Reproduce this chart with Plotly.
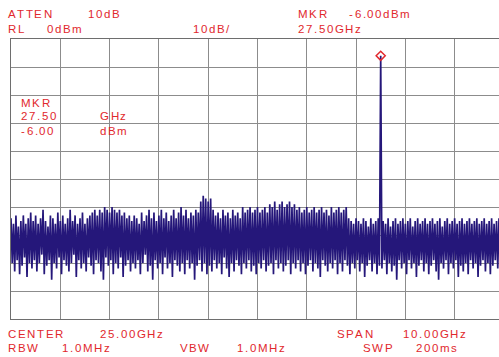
import plotly.graph_objects as go

# ---- instrument settings ----
start_ghz = 20.0
stop_ghz = 30.0
n_points = 401
ref_level = 0.0
db_per_div = 10

marker_ghz = 27.50
marker_dbm = -6.00

# ---- trace values (dBm) ----
trace_dbm = [
    -64, -80, -66, -83, -63, -79, -67, -84, -65, -81, -63, -78, -66, -85, -64, -80, -62, -82, -65, -79,
    -63, -83, -66, -80, -64, -77, -61, -84, -65, -81, -67, -79, -63, -86, -64, -80, -66, -82, -62, -78,
    -65, -84, -63, -79, -66, -81, -64, -83, -61, -80, -65, -77, -63, -85, -66, -79, -64, -82, -62, -80,
    -66, -83, -64, -78, -63, -81, -62, -84, -61, -79, -63, -80, -61, -83, -62, -86, -60, -78, -61, -81,
    -62, -79, -60, -84, -61, -80, -62, -82, -61, -78, -63, -85, -62, -81, -64, -79, -63, -83, -65, -80,
    -63, -82, -64, -79, -66, -84, -62, -80, -65, -77, -63, -83, -61, -81, -64, -86, -62, -79, -65, -82,
    -63, -80, -61, -84, -64, -78, -62, -82, -65, -80, -63, -85, -61, -79, -64, -81, -62, -83, -60, -80,
    -63, -84, -61, -79, -64, -82, -62, -80, -63, -86, -61, -81, -62, -79, -58, -83, -56, -80, -57, -84,
    -58, -81, -57, -83, -61, -79, -63, -82, -62, -80, -64, -84, -61, -78, -63, -82, -62, -85, -64, -80,
    -61, -83, -63, -79, -62, -81, -64, -84, -60, -80, -62, -82, -61, -79, -60, -83, -62, -81, -61, -84,
    -60, -80, -62, -82, -61, -79, -60, -83, -62, -81, -59, -80, -60, -84, -58, -79, -61, -82, -59, -80,
    -58, -83, -60, -81, -59, -79, -58, -84, -60, -80, -59, -82, -61, -79, -60, -83, -62, -80, -61, -84,
    -60, -81, -62, -79, -61, -83, -60, -80, -62, -82, -61, -85, -60, -79, -62, -81, -61, -83, -63, -80,
    -60, -82, -62, -79, -61, -84, -60, -80, -62, -83, -61, -79, -60, -81, -64, -84, -65, -80, -66, -82,
    -64, -79, -65, -83, -66, -80, -64, -85, -65, -81, -67, -79, -64, -83, -66, -80, -65, -84, -64, -81,
    -6, -82, -65, -79, -66, -84, -64, -80, -67, -83, -65, -81, -64, -86, -66, -79, -65, -82, -64, -80,
    -66, -84, -65, -79, -64, -82, -67, -80, -65, -85, -64, -81, -66, -79, -65, -83, -64, -80, -66, -84,
    -65, -81, -64, -79, -66, -83, -65, -86, -64, -80, -67, -82, -65, -79, -64, -84, -66, -80, -65, -82,
    -64, -79, -66, -85, -65, -81, -64, -83, -66, -80, -65, -84, -64, -79, -66, -82, -65, -80, -64, -85,
    -66, -81, -65, -79, -64, -83, -66, -80, -65, -84, -64, -81, -66, -79, -65, -82, -64, -80, -66, -83,
    -65,
]

step = (stop_ghz - start_ghz) / (n_points - 1)
freq_ghz = [start_ghz + i * step for i in range(n_points)]

# ---- screen annotation texts: (text, left px, center-line px) ----
header_texts = [
    ("ATTEN", 8, 14), ("10dB", 88, 14),
    ("RL", 8, 29), ("0dBm", 47, 29), ("10dB/", 193, 29),
    ("MKR", 298, 14), ("-6.00dBm", 349, 14), ("27.50GHz", 298, 29),
]
inner_texts = [
    ("MKR", 21, 103), ("27.50", 21, 116), ("GHz", 100, 116),
    ("-6.00", 21, 131), ("dBm", 100, 131),
]
footer_texts = [
    ("CENTER", 8, 334), ("25.00GHz", 100, 334),
    ("SPAN", 337, 334), ("10.00GHz", 403, 334),
    ("RBW", 8, 348), ("1.0MHz", 62, 348),
    ("VBW", 180, 348), ("1.0MHz", 237, 348),
    ("SWP", 363, 348), ("200ms", 416, 348),
]

W, H = 499, 357
L, T, B = 11, 39, 38
PW, PH = W - L, H - T - B

RED = "#e1282d"
NAVY = "#25177a"
GRID = "#8c8c8c"
FONT_SIZE = 11.5
LETTER_GAP = 1.6

# Arial-metric advance widths (em/1000) for the screen font
ADV = {
    "A": 667, "B": 667, "C": 722, "E": 667, "G": 778, "H": 722, "K": 667,
    "L": 556, "M": 833, "N": 722, "P": 667, "R": 722, "S": 667, "T": 611,
    "V": 667, "W": 944, "z": 500, "d": 556, "m": 833, "s": 500,
    ".": 278, "-": 333, "/": 278,
}
for dgt in "0123456789":
    ADV[dgt] = 556

fig = go.Figure()
fig.add_trace(go.Scatter(
    x=freq_ghz, y=trace_dbm, mode="lines",
    line=dict(color=NAVY, width=1.7), hoverinfo="skip", showlegend=False,
))
fig.add_trace(go.Scatter(
    x=[marker_ghz], y=[marker_dbm], mode="markers",
    marker=dict(symbol="diamond-open", size=7, color=RED, line=dict(color=RED, width=1.5)),
    hoverinfo="skip", showlegend=False, cliponaxis=False,
))

annotations = []
for txt, px, py in header_texts + inner_texts + footer_texts:
    cur = float(px)
    for ch in txt:
        w = ADV.get(ch, 556) / 1000.0 * FONT_SIZE
        cx = cur + w / 2.0
        annotations.append(dict(
            text=ch, xref="paper", yref="paper",
            x=(cx - L) / PW, y=(T + PH - py) / PH,
            xanchor="center", yanchor="middle", showarrow=False,
            font=dict(family="Liberation Sans, Arial, sans-serif", size=FONT_SIZE, color=RED),
        ))
        cur += w + LETTER_GAP

fig.update_layout(
    width=W, height=H,
    margin=dict(l=L, r=0, t=T, b=B, pad=0),
    paper_bgcolor="white", plot_bgcolor="white",
    annotations=annotations,
    xaxis=dict(
        range=[start_ghz, start_ghz + 9.9], dtick=1, tick0=start_ghz,
        showticklabels=False, ticks="", showgrid=True, gridcolor=GRID, gridwidth=1,
        zeroline=False, showline=True, linecolor="#6e6e6e", linewidth=1, mirror=True,
    ),
    yaxis=dict(
        range=[ref_level - 10 * db_per_div, ref_level], dtick=db_per_div, tick0=0,
        showticklabels=False, ticks="", showgrid=True, gridcolor=GRID, gridwidth=1,
        zeroline=False, showline=True, linecolor="#6e6e6e", linewidth=1, mirror=False,
    ),
)

fig.write_html("out.html")
